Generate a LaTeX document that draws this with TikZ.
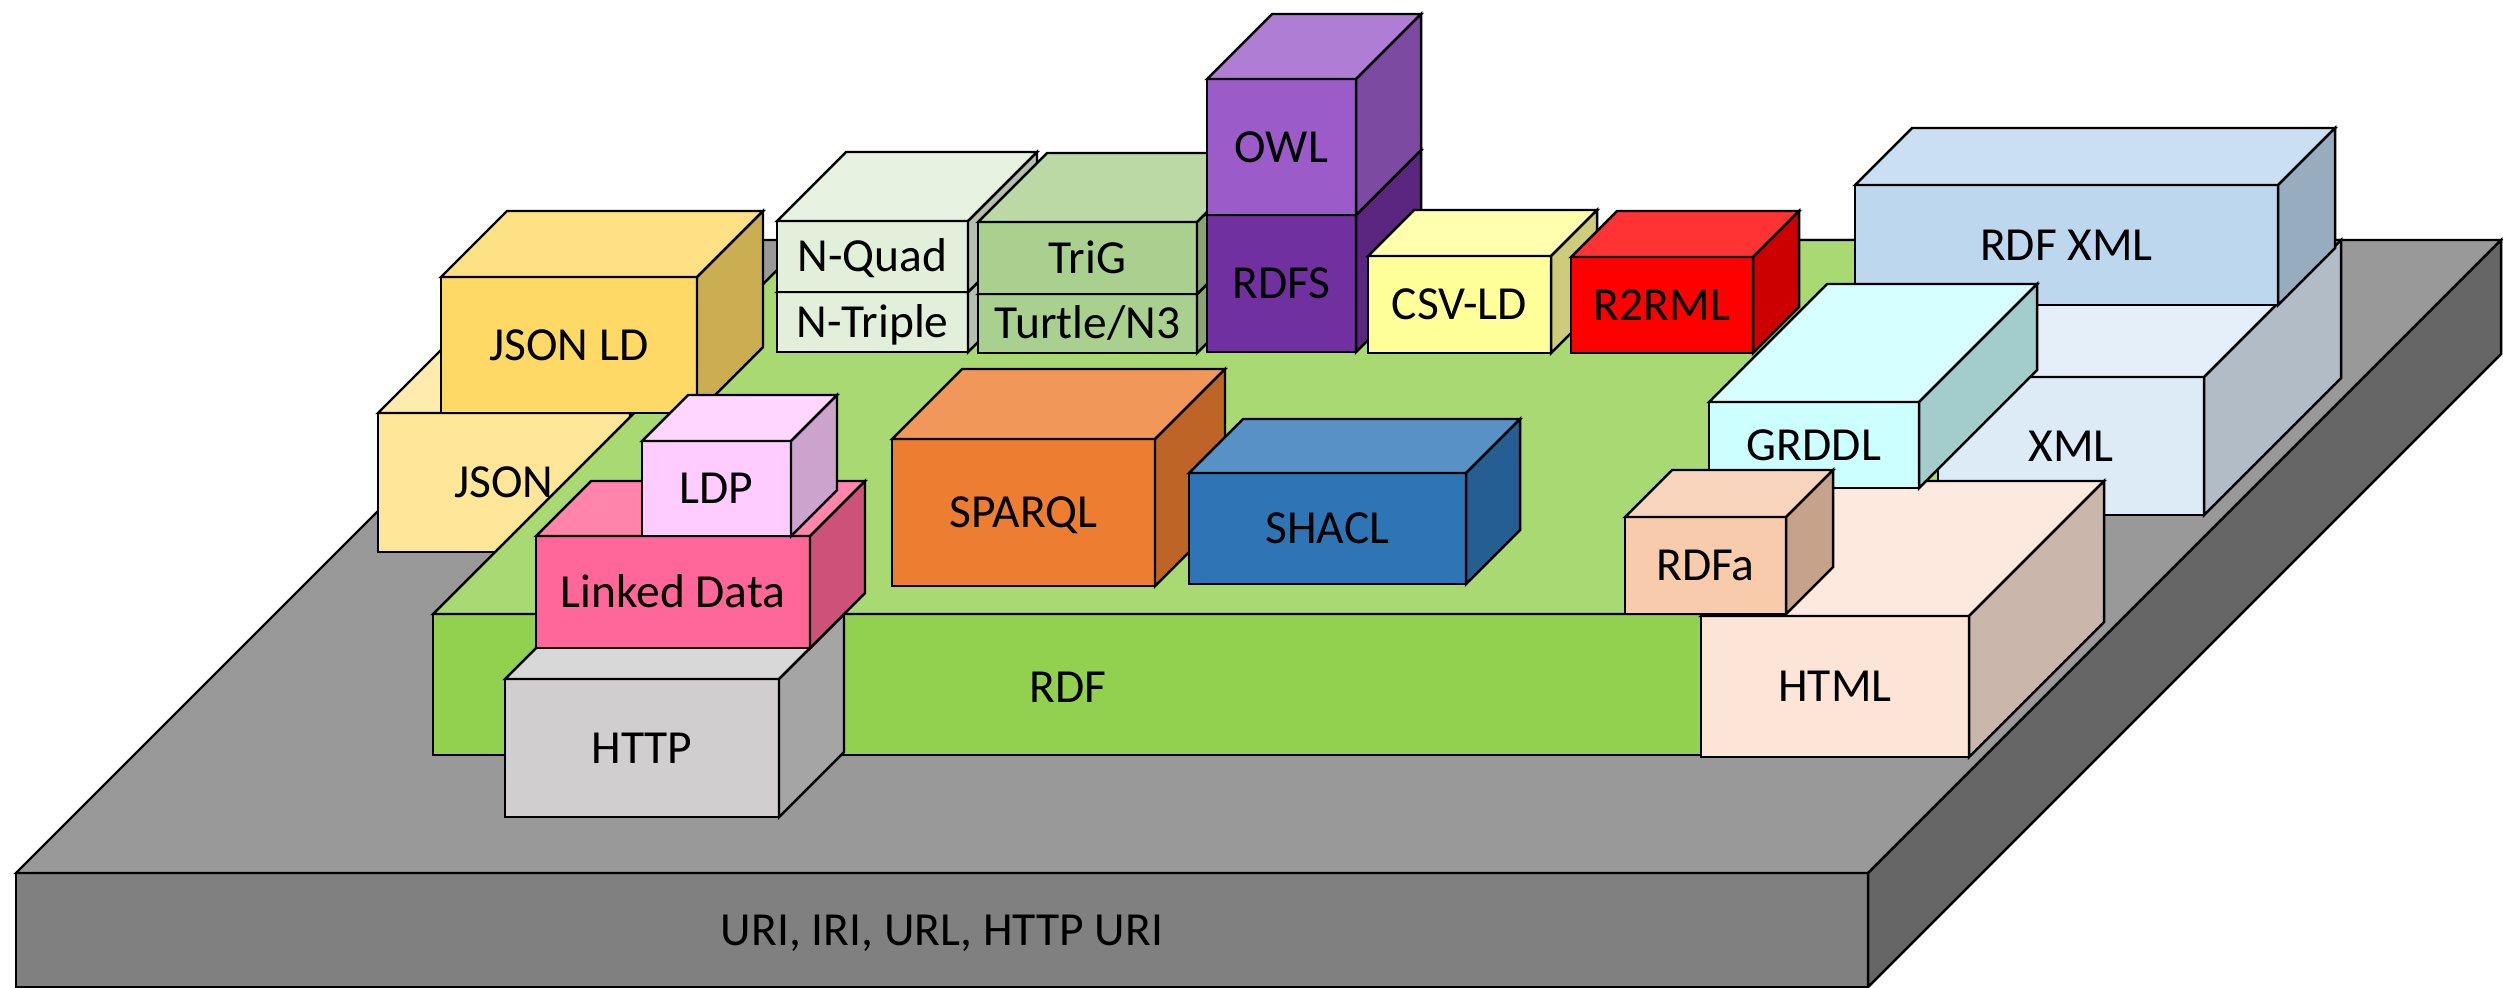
\documentclass[tikz,border=0pt]{standalone}
\usepackage{fontspec}
\setmainfont{Carlito}
\usepackage{xcolor}
\usepackage{tikz}
\definecolor{urigray}{HTML}{808080}
\definecolor{rdfgreen}{HTML}{92D050}
\definecolor{jsonyellow}{HTML}{FFE699}
\definecolor{jsonldyellow}{HTML}{FFD966}
\definecolor{quadgreen}{HTML}{E2EFDA}
\definecolor{triggreen}{HTML}{A9D08E}
\definecolor{owlpurple}{HTML}{9B5CC9}
\definecolor{rdfspurple}{HTML}{7030A0}
\definecolor{csvyellow}{HTML}{FFFF99}
\definecolor{rmlred}{HTML}{FF0000}
\definecolor{rdfxmlblue}{HTML}{BDD7EE}
\definecolor{xmlblue}{HTML}{DDEBF7}
\definecolor{grddlcyan}{HTML}{CCFFFF}
\definecolor{rdfapeach}{HTML}{F8CBAD}
\definecolor{htmlpeach}{HTML}{FCE4D6}
\definecolor{sparqlorange}{HTML}{ED7D31}
\definecolor{shaclblue}{HTML}{2E75B6}
\definecolor{httpgray}{HTML}{D0CECE}
\definecolor{linkedpink}{HTML}{FF6699}
\definecolor{ldppink}{HTML}{FFCCFF}
\tikzset{
  edge/.style={draw=black, line width=0.7pt},
  lab/.style={text=black, inner sep=0pt, text height=8.7pt, text depth=0pt,
    font=\fontsize{13.5}{16}\selectfont},
}
% #1 name, #2 x, #3 y (front top left), #4 width, #5 height, #6 depth, #7 colour, #8 label
\newcommand{\blockbox}[8]{%
  \filldraw[edge, fill=#7] (#2,#3) rectangle ++(#4,#5);
  \filldraw[edge, fill=#7!80!white] (#2,#3) -- ++(#6,-#6) -- ++(#4,0) -- ++(-#6,#6) -- cycle;
  \filldraw[edge, fill=#7!80!black] (#2+#4,#3) -- ++(#6,-#6) -- ++(0,#5) -- ++(-#6,#6) -- cycle;
  \node[lab] (#1) at (#2+#4/2,#3+#5/2) {#8};
}

\begin{document}
\begin{tikzpicture}[x=0.01cm, y=-0.01cm]
  \useasboundingbox (0,0) rectangle (2503,988);

  % base layer
  \blockbox{uri}{16}{873}{1852}{114}{633}{urigray}{URI, IRI, URL, HTTP URI}
  \blockbox{json}{378}{413}{252}{139}{66}{jsonyellow}{JSON}

  % RDF slab
  \filldraw[edge, fill=rdfgreen] (433,614) rectangle (1850,755);
  \filldraw[edge, fill=rdfgreen!80!white] (433,614) -- ++(374,-374) -- ++(1417,0) -- ++(-374,374) -- cycle;
  \node[lab] (rdf) at (1068,687) {RDF};

  % back row
  \blockbox{jsonld}{441}{277}{256}{136}{66}{jsonldyellow}{JSON LD}
  \blockbox{ntriple}{777}{292}{191}{60}{69}{quadgreen}{N-Triple}
  \blockbox{nquad}{777}{221}{191}{71}{69}{quadgreen}{N-Quad}
  \blockbox{turtle}{978}{294}{219}{59}{69}{triggreen}{Turtle/N3}
  \blockbox{trig}{978}{222}{219}{72}{69}{triggreen}{TriG}
  \blockbox{rdfs}{1207}{215}{149}{137}{65}{rdfspurple}{RDFS}
  \blockbox{owl}{1207}{79}{149}{136}{65}{owlpurple}{OWL}
  \blockbox{csvld}{1368}{256}{183}{97}{46}{csvyellow}{CSV-LD}
  \blockbox{rml}{1571}{257}{182}{96}{46}{rmlred}{R2RML}

  % XML side
  \blockbox{xml}{1938}{377}{266}{138}{137}{xmlblue}{XML}
  \blockbox{rdfxml}{1855}{185}{423}{120}{57}{rdfxmlblue}{RDF XML}
  \blockbox{html}{1701}{616}{268}{141}{135}{htmlpeach}{HTML}
  \blockbox{grddl}{1709}{402}{210}{86}{118}{grddlcyan}{GRDDL}
  \blockbox{rdfa}{1625}{517}{161}{97}{47}{rdfapeach}{RDFa}

  % on the slab
  \blockbox{sparql}{892}{439}{263}{147}{70}{sparqlorange}{SPARQL}
  \blockbox{shacl}{1189}{473}{277}{111}{54}{shaclblue}{SHACL}

  % web stack
  \blockbox{http}{505}{679}{274}{138}{65}{httpgray}{HTTP}
  \blockbox{linked}{536}{536}{274}{112}{55}{linkedpink}{Linked Data}
  \blockbox{ldp}{642}{441}{149}{95}{46}{ldppink}{LDP}
\end{tikzpicture}
\end{document}
